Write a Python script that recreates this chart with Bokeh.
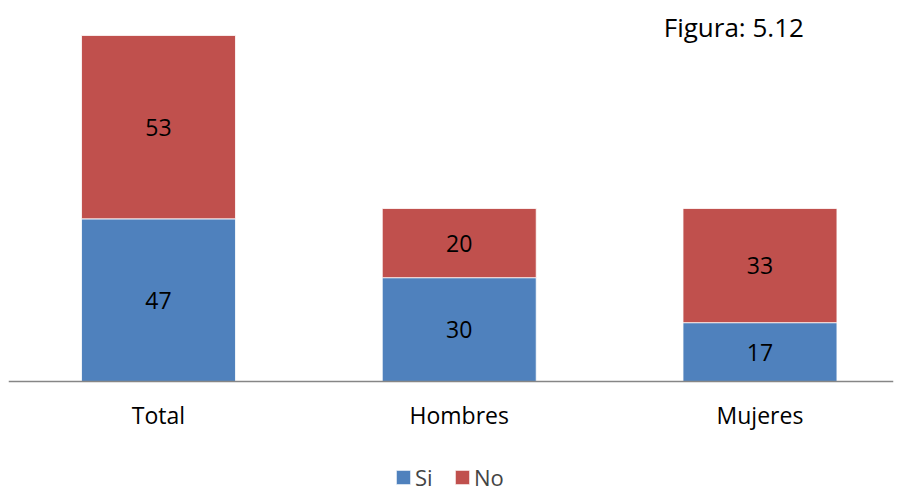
from bokeh.plotting import figure
from bokeh.models import ColumnDataSource, Legend, LegendItem, LabelSet, Label, FixedTicker, Range1d, LinearAxis
from bokeh.core.properties import value
from bokeh.embed import file_html
from bokeh.resources import INLINE

categories = ["Total", "Hombres", "Mujeres"]
si = [47, 30, 17]
no = [53, 20, 33]
title_text = "Figura: 5.12"

FONT = "Open Sans"
BLUE = "#4F81BD"
RED = "#C0504D"
FS = "23px"

xs = list(range(len(categories)))
src = ColumnDataSource(dict(
    x=xs, si=si, no=no,
    si_mid=[s / 2 for s in si],
    no_mid=[s + n / 2 for s, n in zip(si, no)],
    si_lbl=[str(v) for v in si],
    no_lbl=[str(v) for v in no],
))

p = figure(width=898, height=491, output_backend="svg", toolbar_location=None,
           x_range=Range1d(-0.4988, 2.444), y_range=Range1d(-31.79, 110.1),
           y_axis_location=None, x_axis_location=None,
           min_border_left=8, min_border_right=5, min_border_top=0, min_border_bottom=0)
p.outline_line_color = None
p.xgrid.visible = False
p.ygrid.visible = False

r = p.vbar_stack(["si", "no"], x="x", width=0.512, color=[BLUE, RED],
                 line_color="white", line_width=0.8, source=src)

for col, lbl in (("si_mid", "si_lbl"), ("no_mid", "no_lbl")):
    p.add_layout(LabelSet(x="x", y=col, text=lbl, source=src,
                          text_align="center", text_baseline="middle",
                          text_font=value(FONT), text_font_size=value(FS),
                          text_color="#000000"))

p.add_layout(Label(x=1.68, y=102.5, text=title_text, text_baseline="middle",
                   text_font=FONT, text_font_size="26px", text_color="#000000"))

ax = LinearAxis(fixed_location=0)
ax.ticker = FixedTicker(ticks=xs)
ax.major_label_overrides = {i: c for i, c in enumerate(categories)}
ax.major_label_text_font = FONT
ax.major_label_text_font_size = FS
ax.major_label_text_color = "#000000"
ax.major_label_standoff = 12
ax.axis_line_color = "#868686"
ax.axis_line_width = 1.5
ax.major_tick_line_color = None
ax.minor_tick_line_color = None
p.add_layout(ax, "below")

legend = Legend(items=[LegendItem(label="Si", renderers=[r[0]]),
                       LegendItem(label="No", renderers=[r[1]])],
                orientation="horizontal", location=(386, -1),
                label_text_font=FONT, label_text_font_size="22px",
                glyph_width=18, glyph_height=18, label_standoff=3, spacing=18,
                border_line_color=None, background_fill_alpha=0, padding=0, margin=0)
p.add_layout(legend)

open("out.html", "w").write(file_html(p, INLINE))
